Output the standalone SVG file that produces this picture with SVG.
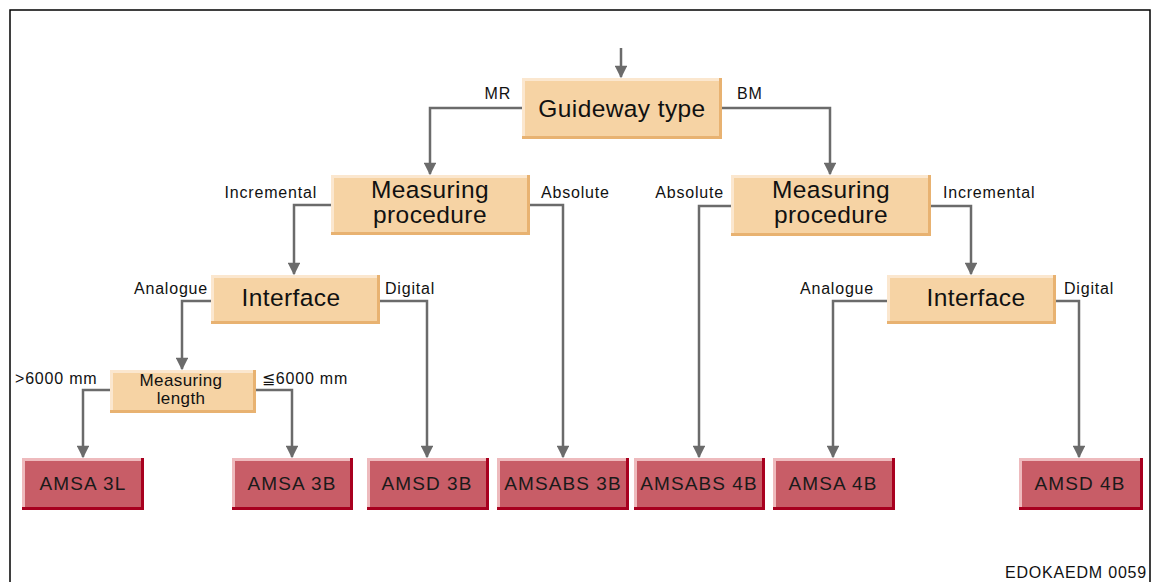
<svg xmlns="http://www.w3.org/2000/svg" width="1157" height="582" viewBox="0 0 1157 582">
<defs>
<marker id="ah" viewBox="0 0 10 10" refX="9" refY="5" markerWidth="5.5" markerHeight="5" markerUnits="strokeWidth" orient="auto">
<path d="M0,0 L10,5 L0,10 z" fill="#6b6b6b"/>
</marker>
<style>
.frame{fill:none;stroke:#000;stroke-width:1.5}
.conn path{fill:none;stroke:#6b6b6b;stroke-width:2.5;marker-end:url(#ah)}
.ob{fill:#f6d3a4}
.ol{fill:none;stroke:#fbe7cf;stroke-width:3}
.od{fill:none;stroke:#e8b271;stroke-width:3}
.rb{fill:#c85d67}
.rl{fill:none;stroke:#eebabd;stroke-width:3}
.rd{fill:none;stroke:#a8001f;stroke-width:3}
text{font-family:"Liberation Sans",Arial,sans-serif;fill:#111}
.big{font-size:24.5px;letter-spacing:0.4px;text-anchor:middle}
.mid{font-size:17px;letter-spacing:0.4px;text-anchor:middle}
.red{font-size:19px;letter-spacing:1.1px;text-anchor:middle;fill:#1a1a1a}
.lbl{font-size:16px;letter-spacing:0.8px}
.end{text-anchor:end}
</style>
</defs>
<rect width="1157" height="582" fill="#fff"/>
<path class="frame" d="M10,590 V10 H1150 V590"/>

<g id="connectors" class="conn">
<path d="M621,48 V77"/>
<path d="M522,108 H430 V174"/>
<path d="M722,108 H830 V174"/>
<path d="M331,205 H294 V274"/>
<path d="M530,205 H563 V457"/>
<path d="M731,206 H699 V457"/>
<path d="M931,206 H971 V274"/>
<path d="M211,301 H182 V369"/>
<path d="M380,301 H427 V457"/>
<path d="M887,301 H833 V457"/>
<path d="M1056,301 H1079 V457"/>
<path d="M110,390 H83 V457"/>
<path d="M256,390 H292 V457"/>
</g>

<g id="edge-labels">
<text class="lbl end" x="511" y="99">MR</text>
<text class="lbl" x="737" y="99">BM</text>
<text class="lbl end" x="317" y="198">Incremental</text>
<text class="lbl" x="541" y="198">Absolute</text>
<text class="lbl end" x="724" y="198">Absolute</text>
<text class="lbl" x="943" y="198">Incremental</text>
<text class="lbl end" x="208" y="294">Analogue</text>
<text class="lbl" x="385" y="294">Digital</text>
<text class="lbl end" x="874" y="294">Analogue</text>
<text class="lbl" x="1064" y="294">Digital</text>
<text class="lbl" x="15" y="384">&gt;6000 mm</text>
<text class="lbl" x="262" y="384">≦6000 mm</text>
</g>

<g id="guideway">
<rect class="ob" x="522" y="78" width="200" height="61"/>
<path class="ol" d="M523.5,139 V79.5 H722"/>
<path class="od" d="M522,137.5 H720.5 V78"/>
<text class="big" x="622" y="117">Guideway type</text>
</g>

<g id="mp-left">
<rect class="ob" x="331" y="175" width="199" height="60"/>
<path class="ol" d="M332.5,235 V176.5 H530"/>
<path class="od" d="M331,233.5 H528.5 V175"/>
<text class="big" x="430" y="198">Measuring</text>
<text class="big" x="430" y="223">procedure</text>
</g>

<g id="mp-right">
<rect class="ob" x="731" y="175" width="200" height="61"/>
<path class="ol" d="M732.5,236 V176.5 H931"/>
<path class="od" d="M731,234.5 H929.5 V175"/>
<text class="big" x="831" y="198">Measuring</text>
<text class="big" x="831" y="223">procedure</text>
</g>

<g id="if-left">
<rect class="ob" x="211" y="275" width="169" height="49"/>
<path class="ol" d="M212.5,324 V276.5 H380"/>
<path class="od" d="M211,322.5 H378.5 V275"/>
<text class="big" x="291" y="306">Interface</text>
</g>

<g id="if-right">
<rect class="ob" x="887" y="275" width="169" height="49"/>
<path class="ol" d="M888.5,324 V276.5 H1056"/>
<path class="od" d="M887,322.5 H1054.5 V275"/>
<text class="big" x="976" y="306">Interface</text>
</g>

<g id="ml">
<rect class="ob" x="110" y="370" width="146" height="43"/>
<path class="ol" d="M111.5,413 V371.5 H256"/>
<path class="od" d="M110,411.5 H254.5 V370"/>
<text class="mid" x="181" y="386">Measuring</text>
<text class="mid" x="181" y="404">length</text>
</g>

<g id="amsa3l">
<rect class="rb" x="22" y="458" width="122" height="52"/>
<path class="rl" d="M23.5,510 V459.5 H144"/>
<path class="rd" d="M22,508.5 H142.5 V458"/>
<text class="red" x="83" y="490">AMSA 3L</text>
</g>
<g id="amsa3b">
<rect class="rb" x="232" y="458" width="121" height="52"/>
<path class="rl" d="M233.5,510 V459.5 H353"/>
<path class="rd" d="M232,508.5 H351.5 V458"/>
<text class="red" x="292" y="490">AMSA 3B</text>
</g>
<g id="amsd3b">
<rect class="rb" x="367" y="458" width="122" height="52"/>
<path class="rl" d="M368.5,510 V459.5 H489"/>
<path class="rd" d="M367,508.5 H487.5 V458"/>
<text class="red" x="427" y="490">AMSD 3B</text>
</g>
<g id="amsabs3b">
<rect class="rb" x="497" y="458" width="132" height="52"/>
<path class="rl" d="M498.5,510 V459.5 H629"/>
<path class="rd" d="M497,508.5 H627.5 V458"/>
<text class="red" x="563" y="490">AMSABS 3B</text>
</g>
<g id="amsabs4b">
<rect class="rb" x="634" y="458" width="131" height="52"/>
<path class="rl" d="M635.5,510 V459.5 H765"/>
<path class="rd" d="M634,508.5 H763.5 V458"/>
<text class="red" x="699" y="490">AMSABS 4B</text>
</g>
<g id="amsa4b">
<rect class="rb" x="773" y="458" width="122" height="52"/>
<path class="rl" d="M774.5,510 V459.5 H895"/>
<path class="rd" d="M773,508.5 H893.5 V458"/>
<text class="red" x="833" y="490">AMSA 4B</text>
</g>
<g id="amsd4b">
<rect class="rb" x="1019" y="458" width="124" height="52"/>
<path class="rl" d="M1020.5,510 V459.5 H1143"/>
<path class="rd" d="M1019,508.5 H1141.5 V458"/>
<text class="red" x="1080" y="490">AMSD 4B</text>
</g>

<text class="lbl end" x="1147" y="578" style="font-size:16px;letter-spacing:0.8px">EDOKAEDM  0059</text>
</svg>
